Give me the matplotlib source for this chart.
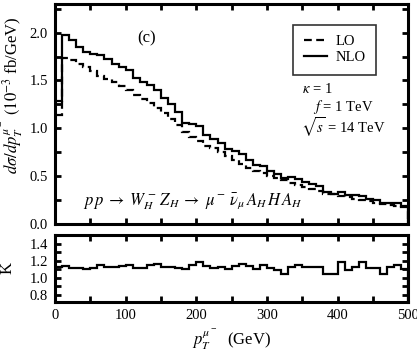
import numpy as np
import matplotlib.pyplot as plt
from matplotlib.ticker import MultipleLocator

plt.rcParams['font.family'] = ['Liberation Serif', 'DejaVu Serif']
plt.rcParams['mathtext.fontset'] = 'stix'

# 10 GeV bins, 0..500 GeV
bin_width = 10
n_bins = 50

lo = [1.14, 1.74, 1.71, 1.67, 1.64, 1.60, 1.55, 1.52, 1.48, 1.44,
      1.40, 1.35, 1.31, 1.26, 1.21, 1.16, 1.10, 1.04, 0.96, 0.91,
      0.87, 0.82, 0.79, 0.75, 0.71, 0.67, 0.63, 0.59, 0.56, 0.53,
      0.50, 0.48, 0.46, 0.43, 0.41, 0.39, 0.37, 0.35, 0.32, 0.31,
      0.29, 0.28, 0.265, 0.25, 0.24, 0.225, 0.215, 0.20, 0.19, 0.175]

nlo = [1.29, 1.98, 1.92, 1.85, 1.80, 1.78, 1.77, 1.72, 1.67, 1.64,
       1.61, 1.53, 1.48, 1.45, 1.40, 1.32, 1.25, 1.17, 1.06, 1.05,
       1.03, 0.93, 0.885, 0.85, 0.78, 0.76, 0.73, 0.67, 0.62, 0.61,
       0.56, 0.52, 0.48, 0.49, 0.47, 0.44, 0.42, 0.40, 0.34, 0.32,
       0.34, 0.305, 0.30, 0.295, 0.265, 0.25, 0.226, 0.226, 0.22, 0.19]

k_factor = [1.13, 1.14, 1.12, 1.11, 1.10, 1.11, 1.15, 1.13, 1.13, 1.14,
            1.15, 1.12, 1.12, 1.15, 1.16, 1.13, 1.13, 1.12, 1.10, 1.15,
            1.18, 1.14, 1.12, 1.13, 1.10, 1.14, 1.16, 1.14, 1.10, 1.15,
            1.12, 1.09, 1.04, 1.13, 1.15, 1.13, 1.13, 1.13, 1.05, 1.04,
            1.18, 1.09, 1.13, 1.18, 1.11, 1.12, 1.05, 1.13, 1.15, 1.10]

edges = np.arange(n_bins + 1) * bin_width

fig = plt.figure(figsize=(4.17, 3.53), dpi=100)
ax = fig.add_axes([0.132, 0.365, 0.847, 0.624])
axk = fig.add_axes([0.132, 0.145, 0.847, 0.189])

ax.stairs(lo, edges, color='black', lw=1.6, linestyle=(0, (3.5, 2)), label='LO')
ax.stairs(nlo, edges, color='black', lw=1.6, label='NLO')
axk.stairs(k_factor, edges, color='black', lw=1.6)

ax.set_xlim(0, 500)
ax.set_ylim(0, 2.3)
axk.set_xlim(0, 500)
axk.set_ylim(0.72, 1.5)

for a in (ax, axk):
    for s in a.spines.values():
        s.set_linewidth(2.2)
    a.xaxis.set_major_locator(MultipleLocator(100))
    a.xaxis.set_minor_locator(MultipleLocator(50))
    a.tick_params(which='both', direction='in', top=True, right=True,
                  width=2, labelsize=10.5, pad=5)
    a.tick_params(which='major', length=4)
    a.tick_params(which='minor', length=4)

ax.yaxis.set_major_locator(MultipleLocator(0.5))
ax.yaxis.set_minor_locator(MultipleLocator(0.25))
ax.yaxis.set_major_formatter(plt.FormatStrFormatter('%.1f'))
ax.tick_params(labelbottom=False)

axk.yaxis.set_major_locator(MultipleLocator(0.2))
axk.yaxis.set_minor_locator(MultipleLocator(0.1))
axk.yaxis.set_major_formatter(plt.FormatStrFormatter('%.1f'))

ax.set_ylabel(r'$d\sigma/dp_T^{\mu^-}$ $(10^{-3}$ fb/GeV)', fontsize=12)
ax.yaxis.set_label_coords(-0.086, 0.585)
axk.set_ylabel('K', fontsize=12)
axk.yaxis.set_label_coords(-0.113, 0.51)
axk.set_xlabel(r'$p_T^{\mu^-}$  (GeV)', fontsize=12, labelpad=4)

leg = ax.legend(loc='upper left', bbox_to_anchor=(0.675, 0.905), fontsize=10.5,
                frameon=True, fancybox=False, edgecolor='black',
                borderaxespad=0, handlelength=1.6, handletextpad=0.6,
                borderpad=0.7, labelspacing=0.2)
leg.get_frame().set_linewidth(1.2)

ax.text(0.26, 0.845, '(c)', transform=ax.transAxes, fontsize=12,
        ha='center', va='center')
ax.text(0.70, 0.615, r'$\kappa$ = 1', transform=ax.transAxes, fontsize=10.5,
        ha='left', va='center')
ax.text(0.73, 0.53, r'$f$ = 1 TeV', transform=ax.transAxes, fontsize=10.5,
        ha='left', va='center')
ax.text(0.695, 0.44, r'$\sqrt{s}$ = 14 TeV', transform=ax.transAxes, fontsize=10.5,
        ha='left', va='center')
ax.text(0.08, 0.10,
        r'$p\,p \;\rightarrow\; W_H^-\, Z_H \;\rightarrow\; \mu^-\, \bar{\nu}_\mu\, A_H\, H\, A_H$',
        transform=ax.transAxes, fontsize=12, ha='left', va='center')

fig.savefig('out.png', dpi=100)
